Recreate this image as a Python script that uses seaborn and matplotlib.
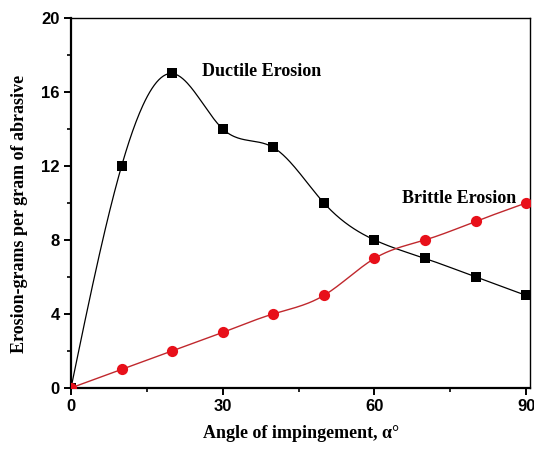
import numpy as np
import pandas as pd
import matplotlib
matplotlib.use("Agg")
import matplotlib.pyplot as plt
import seaborn as sns
from matplotlib.ticker import MultipleLocator

angles = [0, 10, 20, 30, 40, 50, 60, 70, 80, 90]
ductile = [0, 12, 17, 14, 13, 10, 8, 7, 6, 5]
brittle = [0, 1, 2, 3, 4, 5, 7, 8, 9, 10]
x_ticks = [0, 30, 60, 90]
y_ticks = [0, 4, 8, 12, 16, 20]


def natural_spline(x, y, n=400):
    x = np.asarray(x, float)
    y = np.asarray(y, float)
    k = len(x)
    h = np.diff(x)
    A = np.zeros((k, k))
    b = np.zeros(k)
    A[0, 0] = A[-1, -1] = 1
    for i in range(1, k - 1):
        A[i, i - 1] = h[i - 1]
        A[i, i] = 2 * (h[i - 1] + h[i])
        A[i, i + 1] = h[i]
        b[i] = 3 * ((y[i + 1] - y[i]) / h[i] - (y[i] - y[i - 1]) / h[i - 1])
    c = np.linalg.solve(A, b)
    xs = np.linspace(x[0], x[-1], n)
    ys = np.empty_like(xs)
    for j, xv in enumerate(xs):
        i = min(np.searchsorted(x, xv, side="right") - 1, k - 2)
        dx = xv - x[i]
        bi = (y[i + 1] - y[i]) / h[i] - h[i] * (2 * c[i] + c[i + 1]) / 3
        di = (c[i + 1] - c[i]) / (3 * h[i])
        ys[j] = y[i] + bi * dx + c[i] * dx ** 2 + di * dx ** 3
    return xs, ys


sns.set_style("ticks", {"axes.edgecolor": "black", "text.color": "black",
                        "xtick.color": "black", "ytick.color": "black",
                        "axes.labelcolor": "black"})
plt.rcParams["font.family"] = ["Liberation Sans", "DejaVu Sans"]

fig = plt.figure(figsize=(5.34, 4.5), dpi=100)
ax = fig.add_axes([0.133, 0.138, 0.86, 0.822])

df = pd.DataFrame({"angle": angles, "Ductile": ductile, "Brittle": brittle})

xs, ys = natural_spline(angles, ductile)
sns.lineplot(x=xs, y=ys, ax=ax, color="black", linewidth=0.9, zorder=2)
xs2, ys2 = natural_spline(angles, brittle)
sns.lineplot(x=xs2, y=ys2, ax=ax, color="#c0282d", linewidth=1.0, zorder=2)

sns.scatterplot(data=df, x="angle", y="Ductile", ax=ax, marker="s", s=45,
                color="black", edgecolor="black", linewidth=0, zorder=3)
sns.scatterplot(data=df, x="angle", y="Brittle", ax=ax, marker="o", s=65,
                color="#e8101a", edgecolor="#e8101a", linewidth=0, zorder=3)

ax.set_xlim(0, 90.8)
ax.set_ylim(0, 20)
ax.set_xticks(x_ticks)
ax.set_yticks(y_ticks)
ax.xaxis.set_minor_locator(MultipleLocator(15))
ax.yaxis.set_minor_locator(MultipleLocator(2))
ax.tick_params(which="major", direction="out", length=5, width=1.4, labelsize=12, pad=3)
ax.tick_params(which="minor", direction="out", length=3, width=1.2)
ax.tick_params(top=False, right=False, which="both")
for lab in ax.get_xticklabels() + ax.get_yticklabels():
    lab.set_fontweight("bold")

for side in ["left", "bottom"]:
    ax.spines[side].set_linewidth(1.6)
for side in ["top", "right"]:
    ax.spines[side].set_visible(True)
    ax.spines[side].set_linewidth(1.0)

serif = ["Liberation Serif", "DejaVu Serif"]
ax.set_xlabel("Angle of impingement, α°", fontsize=13, fontweight="bold", family=serif, labelpad=8)
ax.set_ylabel("Erosion-grams per gram of abrasive", fontsize=13, fontweight="bold", family=serif)
ax.yaxis.set_label_coords(-0.094, 0.47)

ax.text(25.8, 17.1, "Ductile Erosion", fontsize=13, fontweight="bold", family=serif, va="center")
ax.text(65.5, 10.25, "Brittle Erosion", fontsize=13, fontweight="bold", family=serif, va="center")

fig.savefig("out.png", dpi=100)
